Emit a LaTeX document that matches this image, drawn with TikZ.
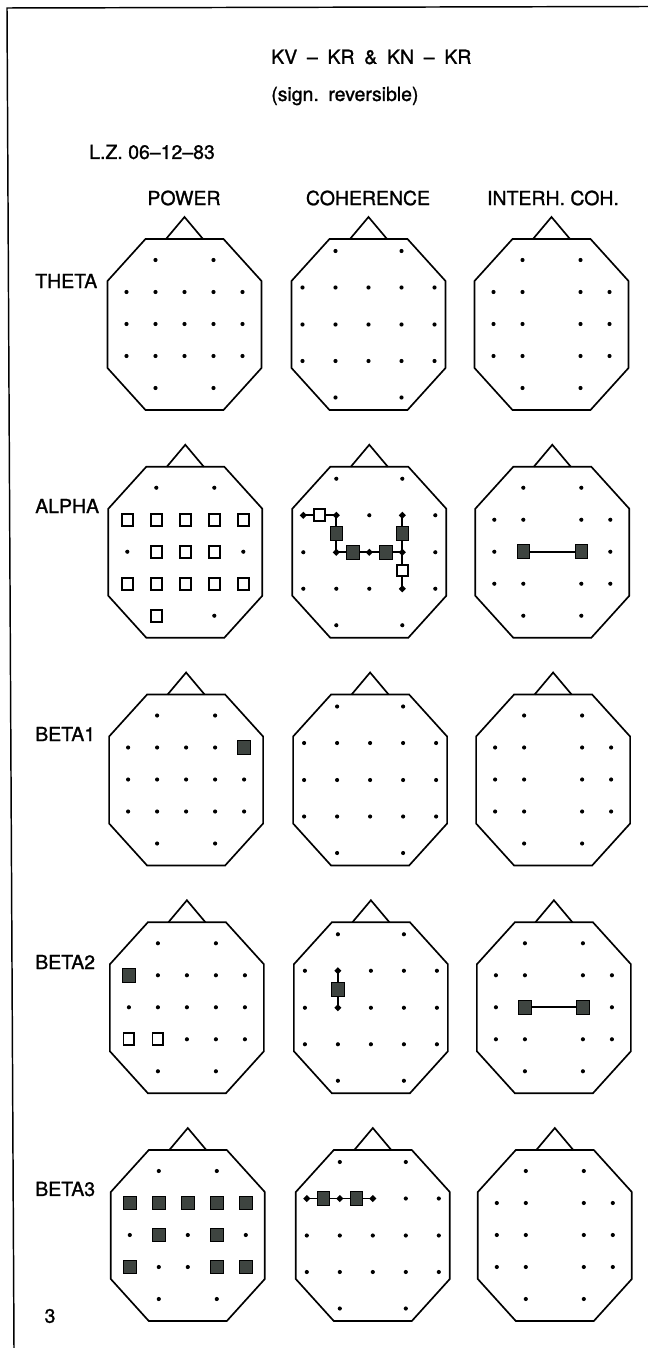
\documentclass[tikz,border=0pt]{standalone}
\usepackage{fontspec}
\setmainfont{TeX Gyre Heros}[RawFeature={embolden=1.2}]
\usetikzlibrary{shapes.geometric,calc}
\definecolor{sqgray}{RGB}{62,68,64}
\def\elP{Fp1/-29/21, Fp2/29/21, F7/-58/53, F3/-29/53, Fz/0/53, F4/29/53, F8/58/53, T3/-58/85, C3/-29/85, Cz/0/85, C4/29/85, T4/58/85, T5/-58/117, P3/-29/117, Pz/0/117, P4/29/117, T6/58/117, O1/-29/149, O2/29/149}
\def\elI{Fp1/-29/21, Fp2/29/21, F7/-58/53, F3/-29/53, F4/29/53, F8/58/53, T3/-58/85, C3/-29/85, C4/29/85, T4/58/85, T5/-58/117, P3/-29/117, P4/29/117, T6/58/117, O1/-29/149, O2/29/149}
\def\elC{Fp1/-33/12, Fp2/33/12, F7/-66/48.5, F3/-33/48.5, Fz/0/48.5, F4/33/48.5, F8/66/48.5, T3/-66/85.5, C3/-33/85.5, Cz/0/85.5, C4/33/85.5, T4/66/85.5, T5/-66/122, P3/-33/122, Pz/0/122, P4/33/122, T6/66/122, O1/-33/158.5, O2/33/158.5}
\newcommand\eeghead[4]{%
  \begin{scope}[shift={(#2,#3)}]
    \draw[headline] (-39,0) -- (39,0) -- (77,42) -- (77,129) -- (39,171) -- (-39,171) -- (-77,129) -- (-77,42) -- cycle;
    \draw[headline] (-18.5,0) -- (0,-22) -- (18.5,0);
    \foreach \n/\ex/\ey in #4 {\node[elec] (#1-\n) at (\ex,\ey) {};}
  \end{scope}}
\begin{document}
\begin{tikzpicture}[x=0.75pt,y=-0.75pt,
  headline/.style={line width=1.25pt, line join=miter},
  elec/.style={circle, fill=black, inner sep=0pt, minimum size=3.1pt},
  opensq/.style={draw=black, line width=1.35pt, fill=white, minimum width=8.2pt, minimum height=8.8pt, inner sep=0pt},
  fullsq/.style={draw=black, line width=0.7pt, fill=sqgray, minimum width=9.3pt, minimum height=10.2pt, inner sep=0pt},
  tipmark/.style={diamond, fill=black, inner sep=0pt, minimum width=5.5pt, minimum height=5.5pt},
  conn/.style={line width=1.3pt},
  txt/.style={inner sep=0pt, font=\fontsize{14.6}{17}\selectfont},
]
\useasboundingbox (0,0) rectangle (648,1348);
\fill[white] (0,0) rectangle (648,1348);
% frame
\draw[line width=1.1pt] (648,6.5) -- (7,8) -- (14,1348);

% texts
\node[txt, anchor=west] (title1) at (271,57) {\spaceskip=0.5em KV – KR \& KN – KR};
\node[txt, anchor=west] (title2) at (271,96) {\spaceskip=0.4em (sign. reversible)};
\node[txt, anchor=west] (subj) at (89,152) {L.Z. 06–12–83};
\node[txt] (hpow) at (184,198) {POWER};
\node[txt] (hcoh) at (368,198) {COHERENCE};
\node[txt] (hint) at (553,198) {INTERH. COH.};
\node[txt, anchor=west] (lt) at (35,281) {THETA};
\node[txt, anchor=west] (la) at (35,506) {ALPHA};
\node[txt, anchor=west] (lb1) at (35,734) {BETA1};
\node[txt, anchor=west] (lb2) at (35,962) {BETA2};
\node[txt, anchor=west] (lb3) at (35,1189) {BETA3};
\node[txt] (pagenum) at (50,1316) {3};

% heads
\eeghead{Pt}{184.5}{239}{\elP}
\eeghead{Ct}{368.5}{239}{\elC}
\eeghead{It}{551.5}{239}{\elI}
\eeghead{Pa}{185.3}{466.75}{\elP}
\eeghead{Ca}{369.3}{466.75}{\elC}
\eeghead{Ia}{552.3}{466.75}{\elI}
\eeghead{Pb1}{186.1}{694.5}{\elP}
\eeghead{Cb1}{370.1}{694.5}{\elC}
\eeghead{Ib1}{553.1}{694.5}{\elI}
\eeghead{Pb2}{186.9}{922.25}{\elP}
\eeghead{Cb2}{370.9}{922.25}{\elC}
\eeghead{Ib2}{553.9}{922.25}{\elI}
\eeghead{Pb3}{187.8}{1150}{\elP}
\eeghead{Cb3}{372.8}{1150}{\elC}
\eeghead{Ib3}{554.8}{1150}{\elI}

% ALPHA power
\foreach \e in {F7,F3,Fz,F4,F8,C3,Cz,C4,T5,P3,Pz,P4,T6,O1}
  \node[opensq] (Pa-\e-m) at (Pa-\e) {};
% ALPHA coherence
\draw[conn] (Ca-F7.center) -- (Ca-F3.center) -- (Ca-C3.center) -- (Ca-Cz.center) -- (Ca-C4.center) -- (Ca-P4.center);
\draw[conn] (Ca-F4.center) -- (Ca-C4.center);
\foreach \e in {F7,F3,C3,Cz,C4,F4,P4}
  \node[tipmark] (Ca-\e-t) at (Ca-\e) {};
\node[opensq] (Ca-m1) at ($(Ca-F7)!0.5!(Ca-F3)$) {};
\node[fullsq] (Ca-m2) at ($(Ca-F3)!0.5!(Ca-C3)$) {};
\node[fullsq] (Ca-m3) at ($(Ca-C3)!0.5!(Ca-Cz)$) {};
\node[fullsq] (Ca-m4) at ($(Ca-Cz)!0.5!(Ca-C4)$) {};
\node[fullsq] (Ca-m5) at ($(Ca-F4)!0.5!(Ca-C4)$) {};
\node[opensq] (Ca-m6) at ($(Ca-C4)!0.5!(Ca-P4)$) {};
% ALPHA interhemispheric
\draw[conn] (Ia-C3) -- (Ia-C4);
\node[fullsq] (Ia-C3-m) at (Ia-C3) {};
\node[fullsq] (Ia-C4-m) at (Ia-C4) {};

% BETA1 power
\node[fullsq] (Pb1-F8-m) at (Pb1-F8) {};

% BETA2 power
\node[fullsq] (Pb2-F7-m) at (Pb2-F7) {};
\node[opensq] (Pb2-T5-m) at (Pb2-T5) {};
\node[opensq] (Pb2-P3-m) at (Pb2-P3) {};
% BETA2 coherence
\draw[conn] (Cb2-F3.center) -- (Cb2-C3.center);
\node[tipmark] (Cb2-F3-t) at (Cb2-F3) {};
\node[tipmark] (Cb2-C3-t) at (Cb2-C3) {};
\node[fullsq] (Cb2-m1) at ($(Cb2-F3)!0.5!(Cb2-C3)$) {};
% BETA2 interhemispheric
\draw[conn] (Ib2-C3) -- (Ib2-C4);
\node[fullsq] (Ib2-C3-m) at (Ib2-C3) {};
\node[fullsq] (Ib2-C4-m) at (Ib2-C4) {};

% BETA3 power
\foreach \e in {F7,F3,Fz,F4,F8,C3,C4,T5,P4,T6}
  \node[fullsq] (Pb3-\e-m) at (Pb3-\e) {};
% BETA3 coherence
\draw[conn] (Cb3-F7.center) -- (Cb3-F3.center) -- (Cb3-Fz.center);
\foreach \e in {F7,F3,Fz}
  \node[tipmark] (Cb3-\e-t) at (Cb3-\e) {};
\node[fullsq] (Cb3-m1) at ($(Cb3-F7)!0.5!(Cb3-F3)$) {};
\node[fullsq] (Cb3-m2) at ($(Cb3-F3)!0.5!(Cb3-Fz)$) {};
\end{tikzpicture}
\end{document}
